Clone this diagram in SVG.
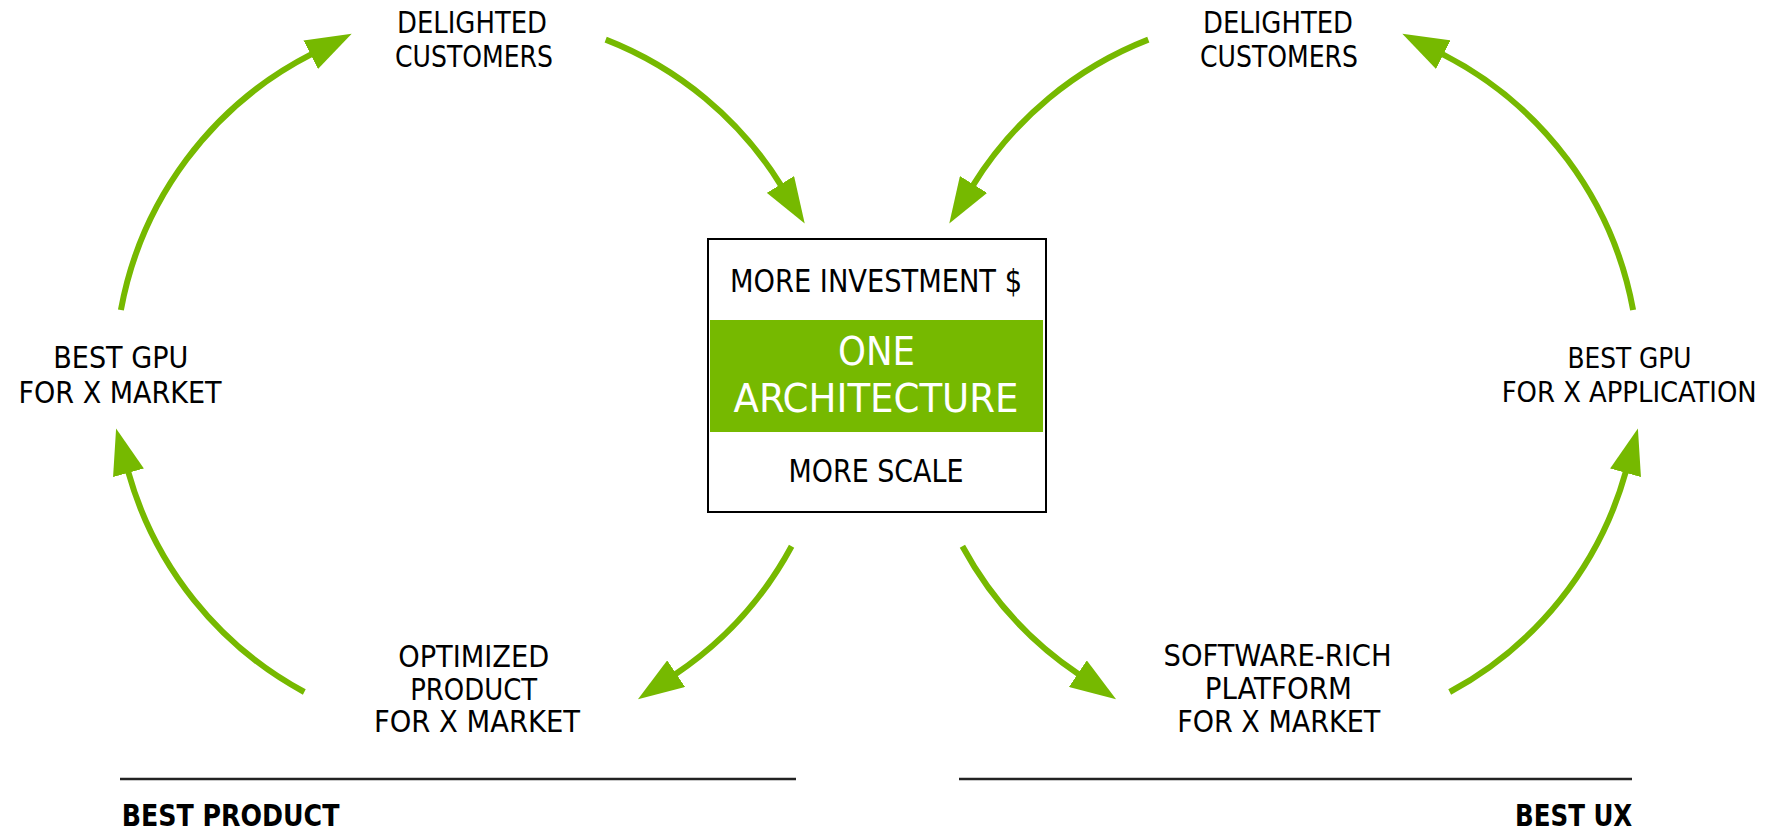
<svg xmlns="http://www.w3.org/2000/svg" width="1774" height="831" viewBox="0 0 1774 831">
<style>
.t{font-family:"DejaVu Sans Condensed","DejaVu Sans",sans-serif;font-size:30px;fill:#000;text-anchor:middle}
.s{font-size:28px}
.b{font-size:32px}
.w{font-size:39px;fill:#fff}
.h{font-family:"DejaVu Sans Condensed","DejaVu Sans",sans-serif;font-size:30px;font-weight:bold;fill:#000}
.arc{fill:none;stroke:#76B900;stroke-width:6;marker-end:url(#ah)}
.rule{stroke:#222;stroke-width:2.5}
</style>
<defs>
<marker id="ah" markerUnits="userSpaceOnUse" markerWidth="46" markerHeight="32" viewBox="0 0 46 32" refX="1" refY="16" orient="auto">
<path d="M0,0 L46,16 L0,32 z" fill="#76B900"/>
</marker>
</defs>
<rect width="1774" height="831" fill="#fff"/>
<g id="connectors">
<path class="arc" d="M120.9,310 A360,360 0 0 1 311.6,54.2"/>
<path class="arc" d="M605.7,39.6 A360,360 0 0 1 781,185.3"/>
<path class="arc" d="M791.6,546.2 A360,360 0 0 1 675.3,674.2"/>
<path class="arc" d="M304.3,692 A360,360 0 0 1 128.2,471.8"/>
<path class="arc" d="M1633.1,310 A360,360 0 0 0 1442.4,54.2"/>
<path class="arc" d="M1148.3,39.6 A360,360 0 0 0 973,185.3"/>
<path class="arc" d="M962.4,546.2 A360,360 0 0 0 1078.7,674.2"/>
<path class="arc" d="M1449.7,692 A360,360 0 0 0 1625.8,471.8"/>
</g>
<g id="center">
<rect x="708" y="239" width="338" height="273" fill="#fff" stroke="#000" stroke-width="2"/>
<rect x="710" y="320" width="333" height="112" fill="#76B900"/>
<text class="t b" x="876" y="291.5" textLength="292" lengthAdjust="spacingAndGlyphs">MORE INVESTMENT $</text>
<text class="t w" x="876.5" y="365" textLength="77" lengthAdjust="spacingAndGlyphs">ONE</text>
<text class="t w" x="876" y="411.7" textLength="285" lengthAdjust="spacingAndGlyphs">ARCHITECTURE</text>
<text class="t b" x="876" y="481.7" textLength="175" lengthAdjust="spacingAndGlyphs">MORE SCALE</text>
</g>
<g id="delighted-left">
<text class="t" x="472" y="33.3" textLength="150" lengthAdjust="spacingAndGlyphs">DELIGHTED</text>
<text class="t" x="474" y="66.7" textLength="158" lengthAdjust="spacingAndGlyphs">CUSTOMERS</text>
</g>
<g id="delighted-right">
<text class="t" x="1278" y="33.3" textLength="150" lengthAdjust="spacingAndGlyphs">DELIGHTED</text>
<text class="t" x="1279" y="66.7" textLength="158" lengthAdjust="spacingAndGlyphs">CUSTOMERS</text>
</g>
<g id="gpu-market">
<text class="t" x="120.8" y="367.5" textLength="135" lengthAdjust="spacingAndGlyphs">BEST GPU</text>
<text class="t" x="120" y="402.7" textLength="203" lengthAdjust="spacingAndGlyphs">FOR X MARKET</text>
</g>
<g id="gpu-application">
<text class="t s" x="1629.5" y="367.7" textLength="124" lengthAdjust="spacingAndGlyphs">BEST GPU</text>
<text class="t s" x="1629.2" y="401.7" textLength="255" lengthAdjust="spacingAndGlyphs">FOR X APPLICATION</text>
</g>
<g id="optimized-product">
<text class="t" x="473.7" y="666.5" textLength="151" lengthAdjust="spacingAndGlyphs">OPTIMIZED</text>
<text class="t" x="473.7" y="700" textLength="127" lengthAdjust="spacingAndGlyphs">PRODUCT</text>
<text class="t" x="477" y="732" textLength="206" lengthAdjust="spacingAndGlyphs">FOR X MARKET</text>
</g>
<g id="software-platform">
<text class="t" x="1277.5" y="665.7" textLength="228" lengthAdjust="spacingAndGlyphs">SOFTWARE-RICH</text>
<text class="t" x="1278.3" y="699" textLength="147" lengthAdjust="spacingAndGlyphs">PLATFORM</text>
<text class="t" x="1278.7" y="731.7" textLength="203" lengthAdjust="spacingAndGlyphs">FOR X MARKET</text>
</g>
<g id="best-product">
<line class="rule" x1="120" y1="779" x2="796" y2="779"/>
<text class="h" x="121.7" y="825.7" textLength="217.7" lengthAdjust="spacingAndGlyphs">BEST PRODUCT</text>
</g>
<g id="best-ux">
<line class="rule" x1="959" y1="779" x2="1632" y2="779"/>
<text class="h" x="1632.3" y="825.7" text-anchor="end" textLength="117.3" lengthAdjust="spacingAndGlyphs">BEST UX</text>
</g>
</svg>
